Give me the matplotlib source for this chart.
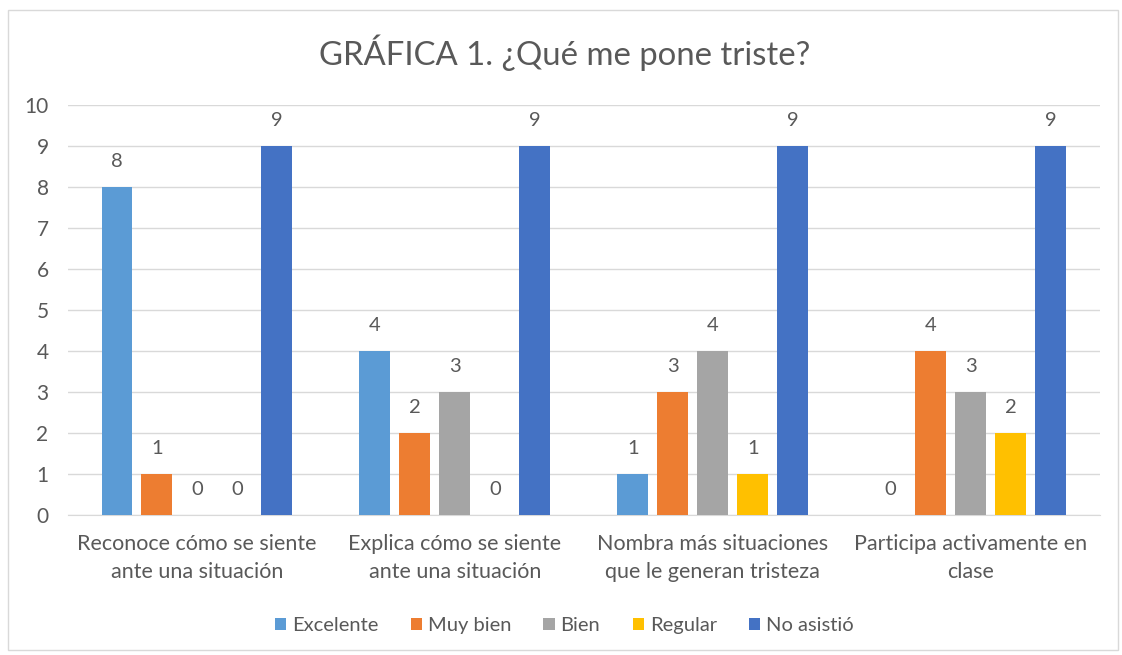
import numpy as np
import matplotlib.pyplot as plt
from matplotlib.patches import Rectangle

plt.rcParams['font.family'] = ['Lato', 'DejaVu Sans']

# data
categories = ["Reconoce cómo se siente\nante una situación",
              "Explica cómo se siente\nante una situación",
              "Nombra más situaciones\nque le generan tristeza",
              "Participa activamente en\nclase"]
series = ["Excelente", "Muy bien", "Bien", "Regular", "No asistió"]
excelente = [8, 4, 1, 0]
muy_bien = [1, 2, 3, 4]
bien = [0, 3, 4, 3]
regular = [0, 0, 1, 2]
no_asistio = [9, 9, 9, 9]
values = [excelente, muy_bien, bien, regular, no_asistio]
colors = ["#5B9BD5", "#ED7D31", "#A5A5A5", "#FFC000", "#4472C4"]
title = "GRÁFICA 1. ¿Qué me pone triste?"

text_color = "#595959"
grid_color = "#D9D9D9"

fig = plt.figure(figsize=(11.22, 6.55), dpi=100)
# outer chart border
fig.patches.append(Rectangle((8 / 1122, 5 / 655), 1110 / 1122, 640 / 655,
                             transform=fig.transFigure, fill=False,
                             edgecolor=grid_color, linewidth=1))

ax = fig.add_axes([0.0606, 0.2137, 0.9194, 0.626])
x = np.arange(len(categories))
pitch = 0.155
width = 0.12
for i, (name, vals, c) in enumerate(zip(series, values, colors)):
    pos = x + (i - 2) * pitch
    bars = ax.bar(pos, vals, width, color=c, label=name, zorder=3)
    ax.bar_label(bars, labels=[str(v) for v in vals], padding=12,
                 fontsize=14.5, color=text_color)

ax.set_xlim(-0.5, len(categories) - 0.5)
ax.set_ylim(0, 10)
ax.set_yticks(range(0, 11))
ax.yaxis.grid(True, color=grid_color, linewidth=1, zorder=0)
ax.set_xticks(x)
ax.set_xticklabels(categories, fontsize=15.5, color=text_color, linespacing=1.45)
ax.tick_params(axis='both', length=0, labelsize=15, labelcolor=text_color)
ax.tick_params(axis='x', pad=14, labelsize=15.5)
ax.tick_params(axis='y', pad=14)
for s in ["top", "right", "left"]:
    ax.spines[s].set_visible(False)
ax.spines["bottom"].set_color(grid_color)

fig.text(0.503, 0.92, title, ha='center', va='center', fontsize=23.7, color=text_color)

fig.legend(loc='center', bbox_to_anchor=(0.503, 0.045), ncol=5, frameon=False,
           fontsize=14.5, labelcolor=text_color, handlelength=0.55, handleheight=0.55,
           handletextpad=0.3, columnspacing=1.6)

fig.savefig("out.png", dpi=100)
